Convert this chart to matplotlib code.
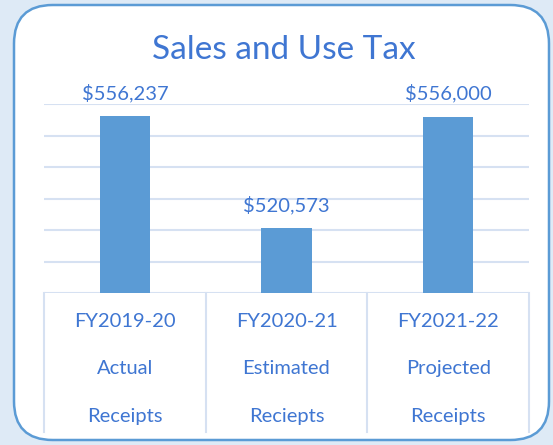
import matplotlib.pyplot as plt
import numpy as np
from matplotlib.patches import FancyBboxPatch

plt.rcParams['font.family'] = ['Lato', 'DejaVu Sans']

TEXT_BLUE = '#3F76D2'
BAR_BLUE = '#5B9BD5'
GRID = '#D6E1F2'

years = ['FY2019-20', 'FY2020-21', 'FY2021-22']
kinds = ['Actual', 'Estimated', 'Projected']
last_line = ['Receipts', 'Reciepts', 'Receipts']
values = [556237, 520573, 556000]
y_ticks = [500000, 510000, 520000, 530000, 540000, 550000, 560000]

fig = plt.figure(figsize=(5.53, 4.45), dpi=100)
fig.patch.set_facecolor('#DEEAF6')

# rounded white panel
panel = FancyBboxPatch((14 / 553, 5 / 445), 535 / 553, 435 / 445,
                       boxstyle='round,pad=0,rounding_size=0.07',
                       transform=fig.transFigure, facecolor='white',
                       edgecolor=BAR_BLUE, linewidth=1.8, mutation_aspect=553 / 445,
                       zorder=-5)
fig.patches.append(panel)

ax = fig.add_axes([44 / 553, (445 - 293) / 445, 485 / 553, (293 - 104) / 445])
ax.set_facecolor('none')
ax.set_zorder(2)

x = np.arange(len(values))
bars = ax.bar(x, values, width=0.31, color=BAR_BLUE, zorder=3)
ax.set_xlim(-0.5, 2.5)
ax.set_ylim(y_ticks[0], y_ticks[-1])
ax.set_yticks(y_ticks)
ax.grid(axis='y', color=GRID, linewidth=1.5, zorder=0)
ax.tick_params(left=False, bottom=False, labelleft=False, labelbottom=False)
for s in ax.spines.values():
    s.set_visible(False)

for b, v in zip(bars, values):
    ax.annotate(f'${v:,}', (b.get_x() + b.get_width() / 2, v), xytext=(0, 10),
                textcoords='offset points', ha='center', va='bottom',
                fontsize=14.5, color=TEXT_BLUE)

# category box under the axis
tr = ax.get_xaxis_transform()
for xv in [-0.5, 0.5, 1.5, 2.5]:
    ax.plot([xv, xv], [0, -0.735], transform=tr, color=GRID, linewidth=1.5, clip_on=False)
for i in range(len(years)):
    for yy, txt in zip([-0.153, -0.402, -0.651], [years[i], kinds[i], last_line[i]]):
        ax.text(i, yy, txt, transform=tr, ha='center', va='center',
                fontsize=14.5, color=TEXT_BLUE)

fig.text(284 / 553, 1 - 50 / 445, 'Sales and Use Tax', ha='center', va='center',
         fontsize=24, color=TEXT_BLUE)

fig.savefig('out.png', dpi=100, facecolor=fig.get_facecolor())
